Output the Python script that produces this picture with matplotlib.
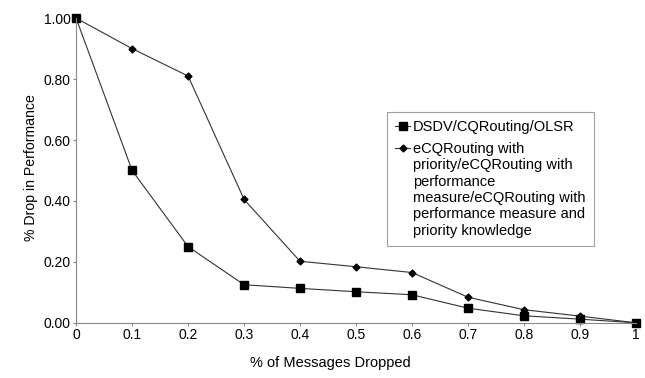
import matplotlib
matplotlib.use("Agg")
import numpy as np
from matplotlib import pyplot as plt
from matplotlib.legend_handler import HandlerLine2D

plt.rcParams["font.family"] = ["Liberation Sans", "DejaVu Sans"]

x = [0, 0.1, 0.2, 0.3, 0.4, 0.5, 0.6, 0.7, 0.8, 0.9, 1]
dsdv = [1.00, 0.50, 0.25, 0.125, 0.113, 0.102, 0.092, 0.048, 0.023, 0.012, 0.0]
ecq = [1.00, 0.90, 0.81, 0.405, 0.202, 0.184, 0.165, 0.084, 0.043, 0.022, 0.0]
xticklabels = ["0", "0.1", "0.2", "0.3", "0.4", "0.5", "0.6", "0.7", "0.8", "0.9", "1"]
yticks = [0, 0.2, 0.4, 0.6, 0.8, 1.0]

label1 = "DSDV/CQRouting/OLSR"
label2 = ("eCQRouting with\npriority/eCQRouting with\nperformance\n"
          "measure/eCQRouting with\nperformance measure and\npriority knowledge")


class TopHandler(HandlerLine2D):
    # put the handle next to the first line of a multi-line label
    def __init__(self, shift, **kw):
        super().__init__(**kw)
        self.shift = shift

    def create_artists(self, legend, orig_handle, xdescent, ydescent, width, height, fontsize, trans):
        arts = super().create_artists(legend, orig_handle, xdescent, ydescent, width, height, fontsize, trans)
        for a in arts:
            a.set_ydata(np.asarray(a.get_ydata(), dtype=float) + self.shift)
        return arts


fig = plt.figure(figsize=(6.45, 3.78), dpi=100)
ax = fig.add_axes([0.118, 0.146, 0.868, 0.806])

l1, = ax.plot(x, dsdv, color="#333333", lw=0.8, marker="s", ms=6, mfc="black", mec="black")
l2, = ax.plot(x, ecq, color="#333333", lw=0.8, marker="D", ms=3.5, mfc="black", mec="black")

ax.set_xlim(0, 1)
ax.set_ylim(0, 1)
ax.set_xticks(x)
ax.set_xticklabels(xticklabels)
ax.set_yticks(yticks)
ax.set_yticklabels(["%.2f" % v for v in yticks])
ax.tick_params(labelsize=10, length=2.5, pad=1.5, color="#888888", direction="out")
for s in ["top", "right"]:
    ax.spines[s].set_visible(False)
for s in ["left", "bottom"]:
    ax.spines[s].set_color("#888888")
for ln in ax.lines:
    ln.set_clip_on(False)

ax.set_xlabel("% of Messages Dropped", fontsize=10.5)
ax.set_ylabel("% Drop in Performance", fontsize=10.2)
ax.xaxis.set_label_coords(0.455, -0.108)
ax.yaxis.set_label_coords(-0.068, 0.511)

leg = ax.legend([l1, l2], [label1, label2], loc="upper left", bbox_to_anchor=(0.555, 0.692),
                borderaxespad=0, fontsize=10.5, handlelength=1.0, handletextpad=0.2,
                borderpad=0.58, labelspacing=0.5, fancybox=False, frameon=True,
                handler_map={l2: TopHandler(30.5)})
for t in leg.get_texts():
    t.set_linespacing(1.22)
leg.get_frame().set_edgecolor("#888888")
leg.get_frame().set_linewidth(0.8)

fig.savefig("out.png", dpi=100)
